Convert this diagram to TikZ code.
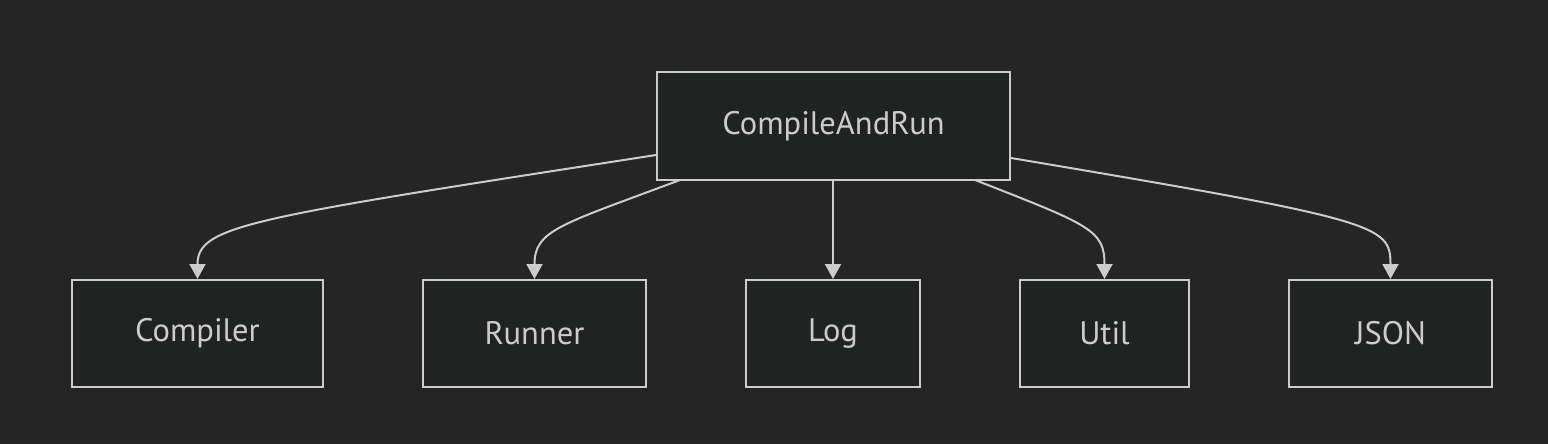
\documentclass[tikz,border=0pt]{standalone}
\usepackage{fontspec}
\setmainfont{PT Sans}
\usetikzlibrary{arrows.meta}
\definecolor{bg}{HTML}{252525}
\definecolor{nodefill}{HTML}{212322}
\definecolor{stroke}{HTML}{CCCCCC}
\tikzset{
  box/.style={draw=stroke, fill=nodefill, line width=2pt, text=stroke, font=\fontsize{32.5}{38}\selectfont, inner sep=0pt, anchor=center},
  conn/.style={draw=stroke, line width=2pt, -{Triangle[length=15pt,width=16pt]}}
}
\begin{document}
\begin{tikzpicture}[x=1pt,y=-1pt]
\fill[bg] (0,0) rectangle (1548,444);
\useasboundingbox (0,0) rectangle (1548,444);
\node[box, minimum width=353pt, minimum height=108pt] (car) at (833.5,126) {CompileAndRun};
\node[box, minimum width=251pt, minimum height=107pt] (compiler) at (197.5,333.5) {Compiler};
\node[box, minimum width=223pt, minimum height=107pt] (runner) at (534.5,333.5) {Runner};
\node[box, minimum width=174pt, minimum height=107pt] (log) at (833,333.5) {Log};
\node[box, minimum width=169pt, minimum height=107pt] (util) at (1104.5,333.5) {Util};
\node[box, minimum width=203pt, minimum height=107pt] (json) at (1390.5,333.5) {JSON};
\draw[conn] (car.west |- 0,155) .. controls (250,218) and (197.5,225) .. (compiler.north);
\draw[conn] (680,180) .. controls (560,225) and (534.5,230) .. (runner.north);
\draw[conn] (car.south -| log.north) -- (log.north);
\draw[conn] (975,180) .. controls (1090,225) and (1104.5,230) .. (util.north);
\draw[conn] (car.east |- 0,158) .. controls (1380,220) and (1390.5,225) .. (json.north);
\end{tikzpicture}
\end{document}
